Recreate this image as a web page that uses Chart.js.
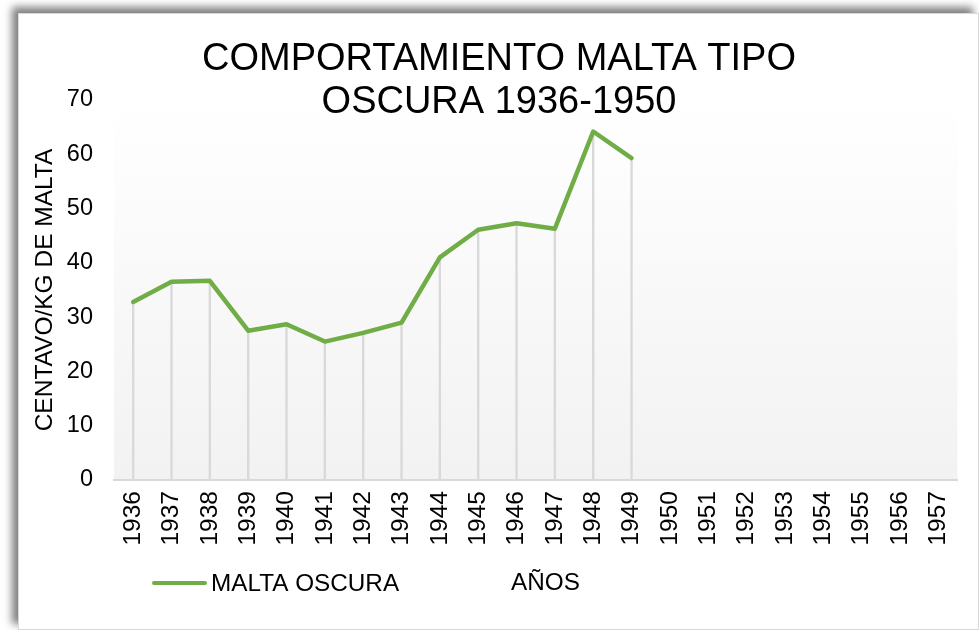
<!DOCTYPE html>
<html><head><meta charset="utf-8">
<script src="https://cdn.jsdelivr.net/npm/chart.js@4.4.0/dist/chart.umd.min.js"></script>
<style>
html,body{margin:0;padding:0;background:#fff;width:979px;height:630px;overflow:hidden;}
#frame{position:absolute;left:18px;top:13px;width:959px;height:615px;border:1px solid #d9d9d9;box-shadow:-6px -6px 8px rgba(0,0,0,0.5);background:#fff;}
#wrap{position:absolute;left:0;top:0;width:979px;height:630px;}
canvas{display:block;}
</style></head><body>
<div id="frame"></div>
<div id="wrap"><canvas id="c" width="979" height="630"></canvas></div>
<script>
// ---- data ----
const years = ["1936","1937","1938","1939","1940","1941","1942","1943","1944","1945","1946","1947","1948","1949","1950","1951","1952","1953","1954","1955","1956","1957"];
const maltaOscura = [32.8, 36.5, 36.7, 27.5, 28.7, 25.5, 27.1, 29.0, 41.0, 46.1, 47.3, 46.3, 64.2, 59.3, null, null, null, null, null, null, null, null];
const seriesName = "MALTA OSCURA";
const titleLines = ["COMPORTAMIENTO MALTA TIPO", "OSCURA 1936-1950"];
const yTitle = "CENTAVO/KG DE MALTA";
const xTitle = "AÑOS";
const yMin = 0, yMax = 70, yStep = 10;

const FONT = "'Liberation Sans', Arial, sans-serif";
const GREEN = '#70ad47';
Chart.defaults.font.family = FONT;
Chart.defaults.color = '#000';

const decor = {
  id: 'decor',
  beforeDraw(chart) {
    const {ctx, chartArea: a} = chart;
    const g = ctx.createLinearGradient(0, a.top, 0, a.bottom);
    g.addColorStop(0, '#ffffff');
    g.addColorStop(1, '#f2f2f2');
    ctx.save();
    ctx.fillStyle = g;
    ctx.fillRect(a.left, a.top, a.right - a.left, a.bottom - a.top);
    ctx.restore();
  },
  afterDraw(chart) {
    const ctx = chart.ctx;
    ctx.save();
    ctx.fillStyle = '#000';
    ctx.textBaseline = 'alphabetic';
    // title
    ctx.font = `38px ${FONT}`;
    ctx.textAlign = 'center';
    ctx.fillText(titleLines[0], 499, 70);
    ctx.fillText(titleLines[1], 499, 113);
    // legend
    ctx.strokeStyle = chart.data.datasets[0].borderColor;
    ctx.lineWidth = 4;
    ctx.lineCap = 'round';
    ctx.beginPath();
    ctx.moveTo(154, 583);
    ctx.lineTo(205, 583);
    ctx.stroke();
    ctx.font = `24.3px ${FONT}`;
    ctx.textAlign = 'left';
    ctx.fillText(chart.data.datasets[0].label, 211, 591);
    // x axis title
    ctx.fillText(xTitle, 511, 590);
    ctx.restore();
  }
};

new Chart(document.getElementById('c'), {
  data: {
    labels: years,
    datasets: [
      {type: 'line', label: seriesName, data: maltaOscura, borderColor: GREEN, backgroundColor: GREEN,
       borderWidth: 4.5, pointRadius: 0, tension: 0, borderCapStyle: 'round', borderJoinStyle: 'round', order: 0},
      {type: 'bar', label: 'drop', data: maltaOscura, backgroundColor: '#d9d9d9', barThickness: 1.7, order: 1}
    ]
  },
  options: {
    responsive: false,
    animation: false,
    devicePixelRatio: 1,
    layout: {padding: {top: 100, right: 16, bottom: 0, left: 0}},
    plugins: {legend: {display: false}, title: {display: false}, tooltip: {enabled: false}},
    scales: {
      x: {
        offset: true,
        grid: {display: false, drawTicks: false},
        border: {color: '#d9d9d9', width: 2},
        ticks: {autoSkip: false, maxRotation: 90, minRotation: 90, padding: 11, font: {size: 24.5}},
        afterFit(s) { s.height = 150; }
      },
      y: {
        min: yMin, max: yMax,
        grid: {display: false, drawTicks: false},
        border: {display: false},
        ticks: {stepSize: yStep, padding: 21, font: {size: 23.5}},
        title: {display: true, text: yTitle, font: {size: 24.5}, padding: {top: 31, bottom: 0}},
        afterFit(s) { s.width = 114; }
      }
    }
  },
  plugins: [decor]
});
</script>
</body></html>
